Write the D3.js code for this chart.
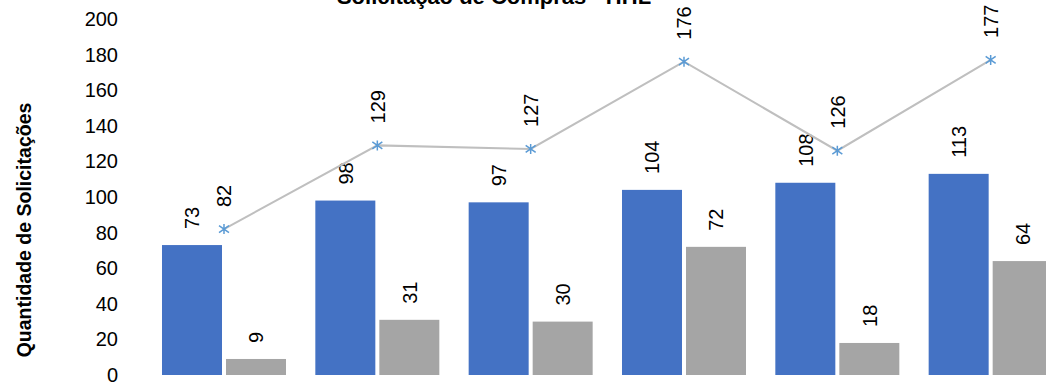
<!DOCTYPE html>
<html>
<head>
<meta charset="utf-8">
<script src="https://cdn.jsdelivr.net/npm/d3@7"></script>
<style>
  html, body { margin: 0; padding: 0; background: #fff; }
  svg { display: block; }
  text { font-family: "Liberation Sans", Arial, sans-serif; fill: #000; }
</style>
</head>
<body>
<svg id="chart" width="1046" height="385"></svg>
<script>
const title = "Solicitação de Compras - HHL";
const yTitle = "Quantidade de Solicitações";
const categories = ["1", "2", "3", "4", "5", "6"];
const seriesNames = ["Série A", "Série B"];
const seriesA = [73, 98, 97, 104, 108, 113];
const seriesB = [9, 31, 30, 72, 18, 64];
const totals = [82, 129, 127, 176, 126, 177];
const yTicks = [0, 20, 40, 60, 80, 100, 120, 140, 160, 180, 200];

const colors = { A: "#4472C4", B: "#A5A5A5", line: "#BFBFBF", marker: "#5B9BD5" };

const svg = d3.select("#chart");

const y = d3.scaleLinear().domain([0, 200]).range([375, 19]);
const x0 = d3.scaleBand().domain(categories).range([147.33, 1067.33])
  .paddingInner(29.33 / 153.33).paddingOuter(29.33 / 153.33 / 2);
const x1 = d3.scaleBand().domain(seriesNames).range([0, x0.bandwidth()]).paddingInner(4 / 64);

// Title (cut off at top, as in the reference)
svg.append("text")
  .attr("x", 494).attr("y", 4)
  .attr("text-anchor", "middle")
  .style("font-weight", "bold").style("font-size", "22px")
  .text(title);

// Y axis
const yAxis = d3.axisLeft(y).tickValues(yTicks).tickSize(0).tickPadding(0);
const gy = svg.append("g").attr("transform", "translate(118,0)").call(yAxis);
gy.select(".domain").remove();
gy.selectAll("text")
  .style("font-family", "'Liberation Sans', Arial, sans-serif")
  .style("font-size", "20px").attr("fill", "#000");

// Y title
svg.append("text")
  .attr("transform", "translate(31,230) rotate(-90)")
  .attr("text-anchor", "middle")
  .style("font-weight", "bold").style("font-size", "19.5px")
  .text(yTitle);

const data = categories.map((c, i) => ({ c, a: seriesA[i], b: seriesB[i], t: totals[i] }));

const groups = svg.append("g").selectAll("g").data(data).join("g")
  .attr("transform", d => `translate(${x0(d.c)},0)`);

groups.append("rect")
  .attr("x", x1(seriesNames[0])).attr("width", x1.bandwidth())
  .attr("y", d => y(d.a)).attr("height", d => y(0) - y(d.a))
  .attr("fill", colors.A);
groups.append("rect")
  .attr("x", x1(seriesNames[1])).attr("width", x1.bandwidth())
  .attr("y", d => y(d.b)).attr("height", d => y(0) - y(d.b))
  .attr("fill", colors.B);

function vLabel(sel, xf, yf, val) {
  sel.append("text")
    .attr("transform", d => `translate(${xf(d)},${yf(d)}) rotate(-90)`)
    .attr("dy", "0.36em")
    .attr("text-anchor", "start")
    .style("font-size", "20px")
    .text(val);
}
vLabel(groups, () => x1(seriesNames[0]) + x1.bandwidth() / 2, d => y(d.a) - 16, d => d.a);
vLabel(groups, () => x1(seriesNames[1]) + x1.bandwidth() / 2, d => y(d.b) - 16, d => d.b);

// Line
const cx = d => x0(d.c) + x0.bandwidth() / 2;
svg.append("path")
  .datum(data)
  .attr("d", d3.line().x(cx).y(d => y(d.t)))
  .attr("fill", "none").attr("stroke", colors.line).attr("stroke-width", 2);

// Star markers
const ms = 5;
const markers = svg.append("g").selectAll("g").data(data).join("g")
  .attr("transform", d => `translate(${cx(d)},${y(d.t)})`);
markers.append("path")
  .attr("d", `M0,${-ms}L0,${ms}M${-ms},${-ms * 0.7}L${ms},${ms * 0.7}M${-ms},${ms * 0.7}L${ms},${-ms * 0.7}`)
  .attr("stroke", colors.marker).attr("stroke-width", 1.5).attr("fill", "none");

svg.append("g").selectAll("text").data(data).join("text")
  .attr("transform", d => `translate(${cx(d)},${y(d.t) - 22}) rotate(-90)`)
  .attr("dy", "0.36em")
  .attr("text-anchor", "start")
  .style("font-size", "20px")
  .text(d => d.t);
</script>
</body>
</html>
